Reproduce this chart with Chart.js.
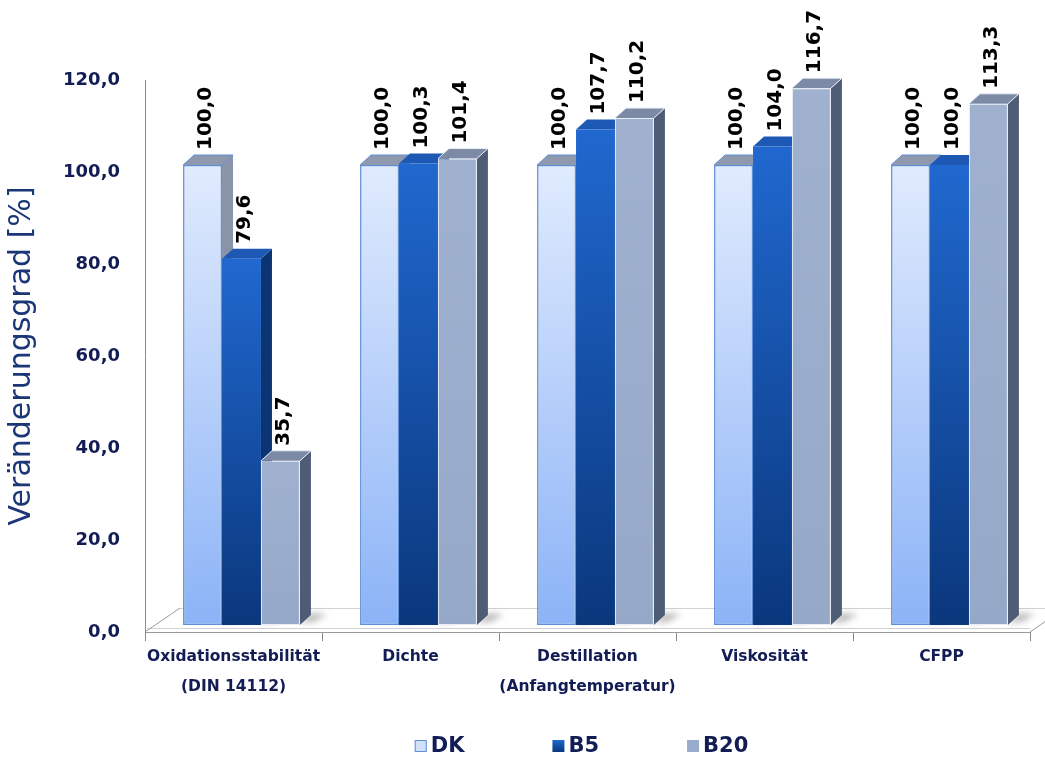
<!DOCTYPE html>
<html>
<head>
<meta charset="utf-8">
<script src="https://cdn.jsdelivr.net/npm/chart.js@4.4.1/dist/chart.umd.min.js"></script>
<style>
  html, body { margin: 0; padding: 0; background: #ffffff; }
  #wrap { width: 1045px; height: 758px; }
</style>
</head>
<body>
<div id="wrap"><canvas id="chart" width="1045" height="758"></canvas></div>
<script>
// Kennwerte, jeweils relativ zu DK (= 100 %)
const categories = [
  ['Oxidationsstabilität', '(DIN 14112)'],
  'Dichte',
  ['Destillation', '(Anfangtemperatur)'],
  'Viskosität',
  'CFPP'
];
const seriesNames = ['DK', 'B5', 'B20'];
const dkValues  = [100.0, 100.0, 100.0, 100.0, 100.0];
const b5Values  = [79.6, 100.3, 107.7, 104.0, 100.0];
const b20Values = [35.7, 101.4, 110.2, 116.7, 113.3];
const yTickValues = [0, 20, 40, 60, 80, 100, 120];
const yAxisTitle = 'Veränderungsgrad [%]';

// Darstellung
const FONT = '"DejaVu Sans", Verdana, sans-serif';
const NAVY = '#121c55';
const faces = [
  { front: ['#e0ebfd', '#8cb3f7'], border: '#5f8fd6', borderWidth: 1.5, top: '#8f99ad', side: '#8a94a8', legend: '#cfe0fb' },
  { front: ['#2068cf', '#0a377c'], border: '#0d3d85', borderWidth: 0,   top: '#1c58b4', side: '#0c3472', legend: '#1a56ad' },
  { front: ['#a0b1d0', '#96a8c8'], border: '#e8edf6', borderWidth: 1,   top: '#7d8aa5', side: '#4f5c75', legend: '#9aaccc' }
];
const DEPTH_X = 11, DEPTH_Y = 10;    // Tiefe der Säulen
const SHIFT_X = 8, SHIFT_Y = -7;     // Säulen stehen mittig auf dem Boden
const FLOOR_X = 35, FLOOR_Y = 24;    // Tiefe der Bodenplatte

const fmt = v => v.toFixed(1).replace('.', ',');

function frontFill(stops) {
  return (c) => {
    const ys = c.chart.scales.y;
    if (!ys || c.type !== 'data') return stops[1];
    const top = ys.getPixelForValue(c.raw);
    const bottom = ys.getPixelForValue(0);
    if (!isFinite(top) || !isFinite(bottom) || top === bottom) return stops[1];
    const g = c.chart.ctx.createLinearGradient(0, top, 0, bottom);
    g.addColorStop(0, stops[0]);
    g.addColorStop(1, stops[1]);
    return g;
  };
}

function poly(ctx, pts) {
  ctx.beginPath();
  ctx.moveTo(pts[0][0], pts[0][1]);
  for (let i = 1; i < pts.length; i++) ctx.lineTo(pts[i][0], pts[i][1]);
  ctx.closePath();
  ctx.fill();
}

// Boden, Schatten, Seiten- und Deckflächen der Säulen
const bar3d = {
  id: 'bar3d',
  beforeDatasetsDraw(chart) {
    const ctx = chart.ctx;
    const { left, right, bottom } = chart.chartArea;

    ctx.save();
    ctx.lineWidth = 1;
    ctx.strokeStyle = '#d2d2d2';
    ctx.beginPath();
    ctx.moveTo(left + FLOOR_X, bottom - FLOOR_Y + 0.5);
    ctx.lineTo(right + FLOOR_X, bottom - FLOOR_Y + 0.5);
    ctx.moveTo(left + 2, bottom - 3.5);
    ctx.lineTo(right, bottom - 3.5);
    ctx.stroke();
    ctx.strokeStyle = '#9a9a9a';
    ctx.beginPath();
    ctx.moveTo(left, bottom);
    ctx.lineTo(left + FLOOR_X, bottom - FLOOR_Y);
    ctx.moveTo(right, bottom);
    ctx.lineTo(right + FLOOR_X, bottom - FLOOR_Y);
    ctx.stroke();
    ctx.restore();

    ctx.save();
    ctx.translate(SHIFT_X, SHIFT_Y);

    const n = chart.data.labels.length;
    const metas = chart.data.datasets.map((d, i) => chart.getDatasetMeta(i));

    // Schlagschatten auf dem Boden
    ctx.save();
    ctx.filter = 'blur(3px)';
    ctx.fillStyle = 'rgba(60,60,60,0.35)';
    metas.forEach(meta => meta.data.forEach(el => {
      const { x, base, width } = el.getProps(['x', 'base', 'width'], true);
      const r = x + width / 2;
      poly(ctx, [[r, base - 2], [r + DEPTH_X, base - DEPTH_Y - 2], [r + DEPTH_X + 16, base - DEPTH_Y - 1], [r + 14, base - 3]]);
    }));
    ctx.restore();

    for (let i = 0; i < n; i++) {
      metas.forEach((meta, di) => {
        const el = meta.data[i];
        if (!el) return;
        const { x, y, base, width } = el.getProps(['x', 'y', 'base', 'width'], true);
        const l = x - width / 2, r = x + width / 2;
        ctx.fillStyle = faces[di].side;
        poly(ctx, [[r, y], [r + DEPTH_X, y - DEPTH_Y], [r + DEPTH_X, base - DEPTH_Y], [r, base]]);
        ctx.fillStyle = faces[di].top;
        poly(ctx, [[l, y], [l + DEPTH_X, y - DEPTH_Y], [r + DEPTH_X, y - DEPTH_Y], [r, y]]);
        if (faces[di].borderWidth) {
          ctx.strokeStyle = faces[di].border;
          ctx.lineWidth = 1;
          ctx.beginPath();
          ctx.moveTo(l, y);
          ctx.lineTo(l + DEPTH_X, y - DEPTH_Y);
          ctx.lineTo(r + DEPTH_X, y - DEPTH_Y);
          ctx.lineTo(r, y);
          ctx.stroke();
        }
      });
    }
    // Vorderflächen zeichnet Chart.js im selben verschobenen Koordinatensystem
  },
  afterDatasetsDraw(chart) {
    const ctx = chart.ctx;
    ctx.restore();

    // Wertebeschriftung, senkrecht über den Säulen
    ctx.save();
    ctx.translate(SHIFT_X, SHIFT_Y);
    ctx.font = 'bold 20px ' + FONT;
    ctx.fillStyle = '#000000';
    ctx.textAlign = 'left';
    ctx.textBaseline = 'middle';
    chart.data.datasets.forEach((ds, di) => {
      chart.getDatasetMeta(di).data.forEach((el, i) => {
        const { x, y } = el.getProps(['x', 'y'], true);
        ctx.save();
        ctx.translate(x + 3, y - DEPTH_Y - 5);
        ctx.rotate(-Math.PI / 2);
        ctx.fillText(fmt(ds.data[i]), 0, 0);
        ctx.restore();
      });
    });
    ctx.restore();
  },
  afterDraw(chart) {
    // Legende unter dem Diagramm
    const ctx = chart.ctx;
    const { left, right } = chart.chartArea;
    const box = 12, gap = 4, itemGap = 88, cy = 746;
    ctx.save();
    ctx.font = 'bold 21px ' + FONT;
    const widths = chart.data.datasets.map(d => box + gap + ctx.measureText(d.label).width);
    const total = widths.reduce((a, b) => a + b, 0) + itemGap * (widths.length - 1);
    let x = (left + right) / 2 - total / 2 - 6;
    chart.data.datasets.forEach((d, di) => {
      const f = faces[di];
      if (di === 1) {
        const g = ctx.createLinearGradient(0, cy - box / 2, 0, cy + box / 2);
        g.addColorStop(0, f.front[0]);
        g.addColorStop(1, f.front[1]);
        ctx.fillStyle = g;
      } else {
        ctx.fillStyle = f.legend;
      }
      ctx.fillRect(x, cy - box / 2, box, box);
      if (di === 0) {
        ctx.strokeStyle = f.border;
        ctx.lineWidth = 1;
        ctx.strokeRect(x + 0.5, cy - box / 2 + 0.5, box - 1, box - 1);
      }
      ctx.fillStyle = NAVY;
      ctx.textAlign = 'left';
      ctx.textBaseline = 'middle';
      ctx.fillText(d.label, x + box + gap, cy + 1);
      x += widths[di] + itemGap;
    });
    ctx.restore();
  }
};

const seriesValues = [dkValues, b5Values, b20Values];
const datasets = seriesNames.map((name, di) => ({
  label: name,
  data: seriesValues[di],
  backgroundColor: frontFill(faces[di].front),
  borderColor: faces[di].border,
  borderWidth: faces[di].borderWidth,
  borderSkipped: false,
  barPercentage: 1.0,
  categoryPercentage: 0.66,
  clip: false
}));

new Chart(document.getElementById('chart'), {
  type: 'bar',
  data: { labels: categories, datasets },
  options: {
    responsive: false,
    animation: false,
    events: [],
    layout: { padding: { top: 80, right: 15, bottom: 54, left: 0 } },
    plugins: {
      legend: { display: false },
      tooltip: { enabled: false }
    },
    scales: {
      x: {
        grid: {
          offset: true,
          drawOnChartArea: false,
          drawTicks: true,
          tickLength: 9,
          color: '#8a8a8a'
        },
        border: { display: true, color: '#9a9a9a', width: 1 },
        ticks: {
          color: NAVY,
          font: { family: FONT, size: 15.5, weight: 'bold', lineHeight: 1.95 },
          padding: 1,
          maxRotation: 0,
          autoSkip: false
        },
        afterFit: s => { s.height = 72; }
      },
      y: {
        min: 0,
        max: 120,
        grid: { display: false, drawTicks: false },
        border: { display: true, color: '#8a8a8a', width: 1 },
        afterBuildTicks: s => { s.ticks = yTickValues.map(v => ({ value: v })); },
        ticks: {
          color: NAVY,
          font: { family: FONT, size: 18, weight: 'bold' },
          padding: 25,
          callback: v => fmt(v)
        },
        title: {
          display: true,
          text: yAxisTitle,
          color: '#1a3676',
          font: { family: FONT, size: 30, weight: 'normal' },
          padding: { top: 4, bottom: 0 }
        },
        afterFit: s => { s.width = 145; }
      }
    }
  },
  plugins: [bar3d]
});
</script>
</body>
</html>
